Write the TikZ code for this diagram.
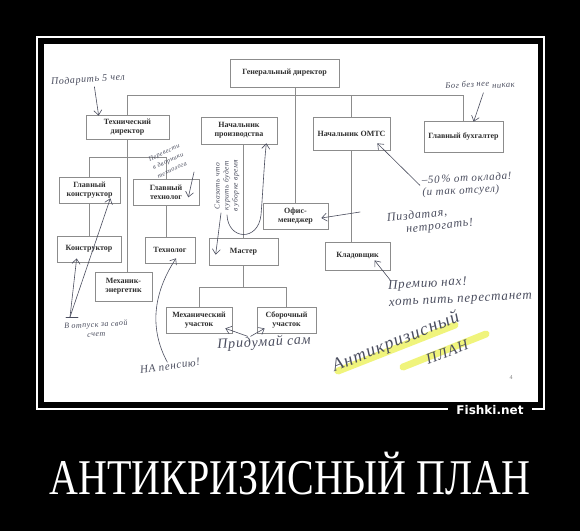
\documentclass[tikz,border=0pt]{standalone}
\usepackage{fontspec}
\usepackage{graphicx}
\setmainfont{Liberation Serif}
\newfontfamily\handfont[LetterSpace=6.0]{Liberation Serif}
\newfontfamily\logofont{DejaVu Sans}
\usetikzlibrary{positioning,calc,arrows.meta}

\definecolor{boxline}{HTML}{8C8C8C}
\definecolor{boxtext}{HTML}{303030}
\definecolor{ink}{HTML}{4A4D5E}
\definecolor{hlyellow}{HTML}{EDF25C}

\begin{document}
\begin{tikzpicture}[
    x=1pt, y=-1pt,
    box/.style={rectangle,draw=boxline,line width=0.7pt,text=boxtext,align=center,inner sep=1pt,
        font=\bfseries\fontsize{8}{9}\selectfont},
    orgline/.style={draw=boxline,line width=0.7pt},
    note/.style={text=ink,align=center,inner sep=1pt},
    pen/.style={draw=ink,line width=0.6pt,line cap=round},
    penarrow/.style={pen,-{Straight Barb[length=5pt,width=8pt]}},
    highlight/.style={draw=hlyellow,line width=7pt,line cap=round,opacity=0.8}
]

% poster: black ground, thin frame, scanned sheet
\useasboundingbox (0,0) rectangle (580,531);
\fill[black] (0,0) rectangle (580,531);
\draw[white,line width=1.6pt] (37,37) rectangle (544,409);
\fill[white] (44,44) rectangle (538,402);

% org chart boxes
\node[box,minimum width=109pt,minimum height=28pt] (gen) at (284.5,73) {Генеральный директор};
\node[box,minimum width=83pt,minimum height=24pt] (tech) at (127.5,127) {Технический\\директор};
\node[box,minimum width=76pt,minimum height=27pt] (nprod) at (239,130.5) {Начальник\\производства};
\node[box,minimum width=77pt,minimum height=33pt] (omts) at (351.5,133.5) {Начальник ОМТС};
\node[box,minimum width=79pt,minimum height=31pt] (bux) at (463.5,136.5) {Главный бухгалтер};
\node[box,minimum width=61pt,minimum height=26pt] (gkon) at (89.5,190) {Главный\\конструктор};
\node[box,minimum width=66pt,minimum height=26pt] (gtech) at (166,192) {Главный\\технолог};
\node[box,minimum width=64pt,minimum height=26pt] (konstr) at (89,249) {Конструктор};
\node[box,minimum width=50pt,minimum height=26pt] (tehn) at (170,250) {Технолог};
\node[box,minimum width=69pt,minimum height=27pt] (master) at (243.5,251.5) {Мастер};
\node[box,minimum width=57pt,minimum height=29pt] (mech) at (123.5,286.5) {Механик-\\энергетик};
\node[box,minimum width=65pt,minimum height=26pt] (office) at (295.5,216) {Офис-\\менеджер};
\node[box,minimum width=65pt,minimum height=28pt] (klad) at (357.5,256) {Кладовщик};
\node[box,minimum width=66pt,minimum height=26pt] (mu) at (199,320) {Механический\\участок};
\node[box,minimum width=59pt,minimum height=26pt] (su) at (286.5,320) {Сборочный\\участок};

% chart lines
\coordinate (topbus) at (0,95);
\coordinate (techbus) at (0,157);
\coordinate (shopbus) at (0,287);
\draw[orgline] (tech.north |- topbus) -- (bux.north |- topbus);
\foreach \n in {tech,omts,bux} {
    \draw[orgline] (\n.north) -- (\n.north |- topbus);
}
\draw[orgline] (gen.south -| office.north) -- (office.north);
\draw[orgline] (gkon.north |- techbus) -- (gtech.north |- techbus);
\foreach \n in {gkon,gtech} {
    \draw[orgline] (\n.north) -- (\n.north |- techbus);
}
\draw[orgline] (tech.south) -- (tech.south |- mech.north);
\draw[orgline] (gkon.south) -- (gkon.south |- konstr.north);
\draw[orgline] (gtech.south) -- (gtech.south |- tehn.north);
\draw[orgline] (master.north |- nprod.south) -- (master.north);
\draw[orgline] (master.south) -- (master.south |- shopbus);
\draw[orgline] (mu.north |- shopbus) -- (su.north |- shopbus);
\foreach \n in {mu,su} {
    \draw[orgline] (\n.north) -- (\n.north |- shopbus);
}
\draw[orgline] (omts.south) -- (omts.south |- klad.north);

% marker strokes under the big note
\draw[highlight] (338,371) -- (455,325);
\draw[highlight] (403,367) -- (486,334);

% handwritten notes
\node[note,rotate=4,font=\handfont\itshape\fontsize{10}{10}\selectfont] (n1) at (88,80) {Подарить 5 чел};
\node[note,rotate=4,font=\handfont\itshape\fontsize{8.5}{8.5}\selectfont] (n2) at (480,85) {Бог без нее \raisebox{-3pt}{никак}};
\node[note,rotate=25,font=\handfont\itshape\fontsize{6.5}{9.5}\selectfont] (n3) at (168,161) {Перевести\\в дворники\\технолога};
\node[note,rotate=90,font=\handfont\itshape\fontsize{7.5}{9}\selectfont] (n4) at (227,186) {Сказать что\\курить будет\\в уборке время};
\node[note,rotate=3,font=\handfont\itshape\fontsize{8}{9.5}\selectfont] (n5) at (96,329) {В отпуск за свой\\счет};
\node[note,rotate=8,font=\handfont\itshape\fontsize{11}{11}\selectfont] (n6) at (170,366) {НА пенсию!};
\node[note,rotate=3,font=\handfont\itshape\fontsize{14}{14}\selectfont] (n7) at (264,343) {Придумай сам};
\node[note,rotate=3,align=left,font=\handfont\itshape\fontsize{11}{12}\selectfont] (n8) at (467,185) {–50\,\% от оклада!\\(и так отсуел)};
\node[note,rotate=6,align=left,font=\handfont\itshape\fontsize{12}{13}\selectfont] (n9) at (430,221) {Пиздатая,\\\hspace*{1.5em}нетрогать!};
\node[note,rotate=3,align=left,font=\handfont\itshape\fontsize{13}{17}\selectfont] (n10) at (460,291) {Премию нах!\\хоть пить перестанет};
\node[note,rotate=22,font=\handfont\itshape\fontsize{18}{18}\selectfont] (n11) at (396,342) {Антикризисный};
\node[note,rotate=20,font=\handfont\itshape\fontsize{15}{15}\selectfont] (n12) at (447,352) {ПЛАН};
\node[note,text=gray,font=\fontsize{6}{6}\selectfont] (page) at (511,378) {4};

% pen strokes from notes to boxes
\coordinate (n3tail) at (194,172);
\coordinate (n5tail) at (70,317);
\coordinate (n9tail) at (360,212);
\coordinate (n10tail) at (391,281);
\draw[penarrow] ($(n1.south)+(6,1)$) -- ($(tech.north west)+(13,1)$);
\draw[penarrow] ($(n2.south)+(3,2)$) -- ($(bux.north west)+(50,1)$);
\draw[penarrow] (n3tail) -- ($(gtech.south east)+(-11,-8)$);
\draw[penarrow] ($(n4.west)+(-6,0)$) -- ($(master.north west)+(7,17)$);
\draw[penarrow] ($(n4.west)+(0,2)$) .. controls (228,240) and (258,242) .. (261,215)
    .. controls (263,190) and (264,165) .. ($(nprod.south east)+(-11,-1)$);
\draw[pen] ($(n5tail)+(-4,0)$) -- ($(n5tail)+(8,0)$);
\draw[penarrow] (n5tail) -- ($(konstr.south west)+(20,-4)$);
\draw[penarrow] (n5tail) -- ($(gkon.south east)+(-10,-5)$);
\draw[penarrow] ($(n6.north)+(-2,1)$) .. controls (150,330) and (152,295) .. ($(tehn.south)+(6,-5)$);
\draw[penarrow] ($(n7.north)+(-16,1)$) -- ($(mu.south east)+(-7,-5)$);
\draw[penarrow] ($(n7.north)+(-13,1)$) -- ($(su.south west)+(8,-5)$);
\draw[penarrow] ($(n8.west)+(-1,-2)$) -- ($(omts.south east)+(-13,-7)$);
\draw[penarrow] (n9tail) -- ($(office.east)+(-7,2)$);
\draw[penarrow] (n10tail) -- ($(klad.south)+(17,-10)$);

% caption and site mark
\node[text=white,font=\fontsize{40}{40}\selectfont] (caption) at (290,474) {\scalebox{1}[1.25]{АНТИКРИЗИСНЫЙ ПЛАН}};
\node[fill=black,text=white,inner xsep=8pt,inner ysep=2pt,font=\logofont\bfseries\fontsize{12}{12}\selectfont] (logo) at (490,410) {Fishki.net};

\end{tikzpicture}
\end{document}
